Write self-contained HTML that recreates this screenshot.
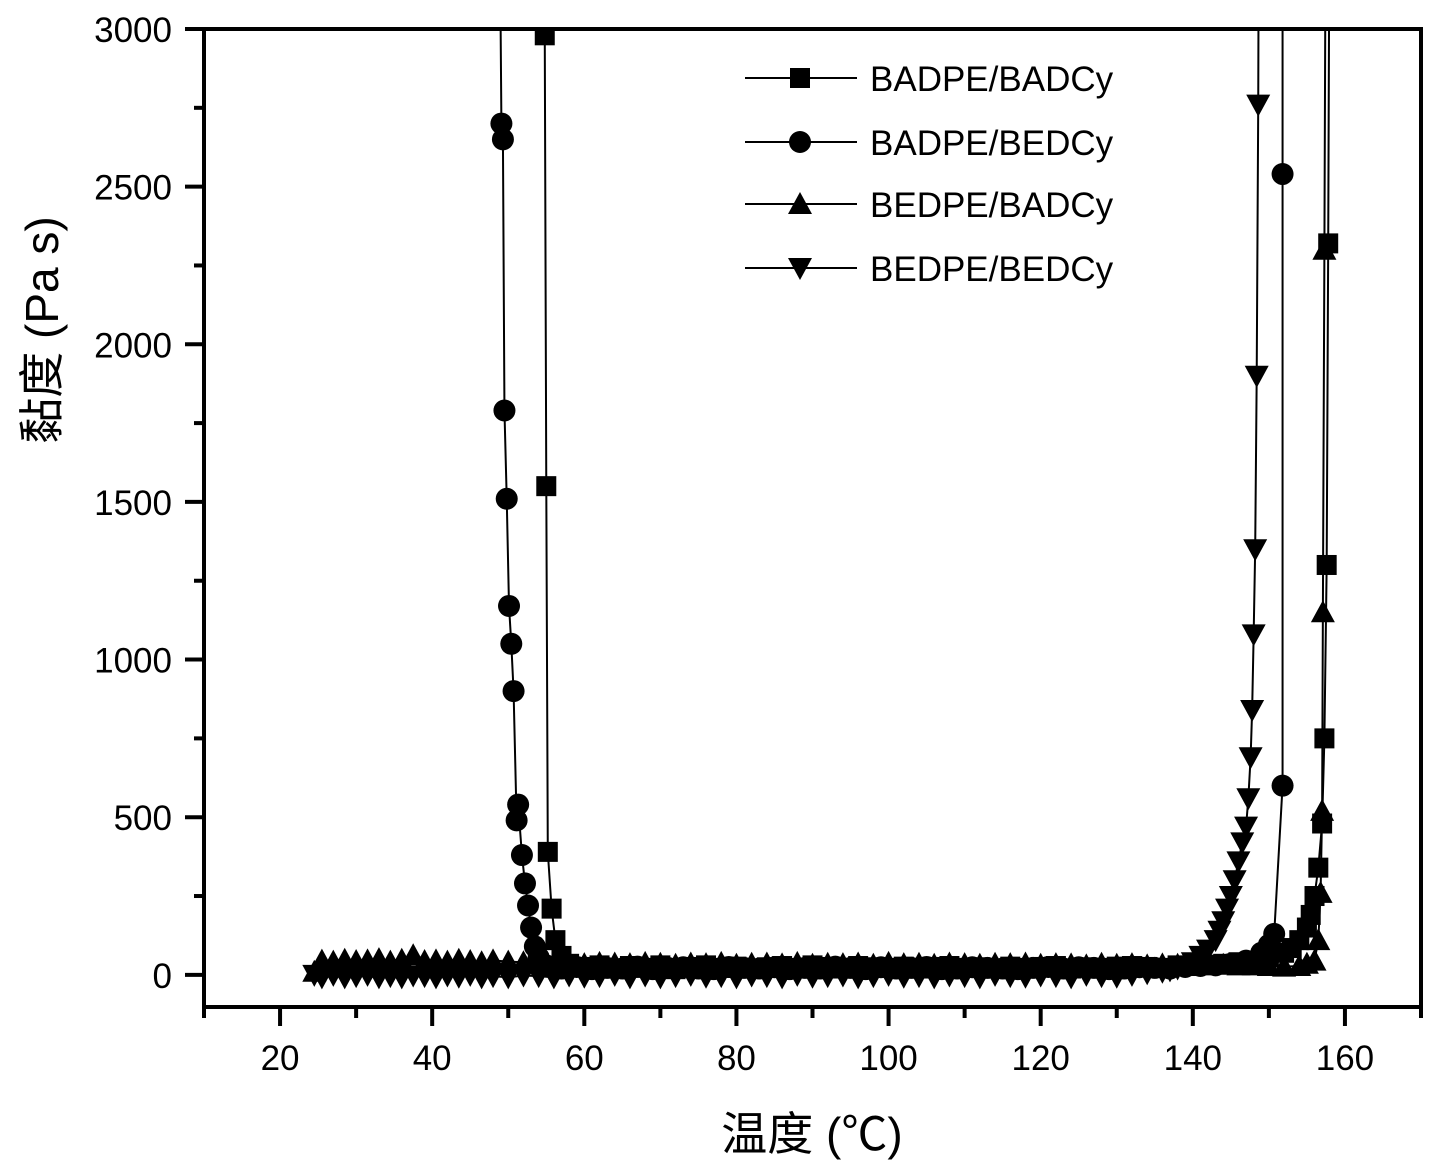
<!DOCTYPE html>
<html><head><meta charset="utf-8"><style>
html,body{margin:0;padding:0;background:#fff;}
svg{display:block;}
text{font-family:"Liberation Sans","Noto Sans CJK SC",sans-serif;fill:#000;}
</style></head><body>
<svg id="chart" width="1435" height="1173" viewBox="0 0 1435 1173">
<defs><clipPath id="plotclip"><rect x="204" y="29" width="1217" height="978"/></clipPath></defs>
<g id="series" clip-path="url(#plotclip)"></g>
<g id="axes"></g>
<g id="legend"></g>
<text x="812" y="1150" font-size="46" text-anchor="middle">温度 (℃)</text>
<text transform="translate(58,330) rotate(-90)" font-size="46" text-anchor="middle">黏度 (Pa s)</text>
</svg>
<script>
const xTicks=[20,40,60,80,100,120,140,160];
const yTicks=[0,500,1000,1500,2000,2500,3000];
const seriesNames=["BADPE/BADCy","BADPE/BEDCy","BEDPE/BADCy","BEDPE/BEDCy"];
const s1T=[54.2,54.8,55.0,55.2,55.7,56.2,57,58,60,62,64,66,68,70,72,74,76,78,80,82,84,86,88,90,92,94,96,98,100,102,104,106,108,110,112,114,116,118,120,122,124,126,128,130,132,134,136,138,140,142,144,146,148,150,152,153,154,155,155.5,156,156.5,157,157.3,157.6,157.8,158,158.2,158.5];
const s1V=[3600,2980,1550,390,210,110,60,35,25,30,20,28,22,30,18,25,30,22,26,20,24,28,22,30,25,20,28,24,22,26,20,25,28,22,24,20,26,22,25,28,20,24,22,26,28,25,22,30,28,32,35,40,45,55,70,85,110,150,190,250,340,480,750,1300,2320,3600,3600,3600];
const s2T=[48.8,49.1,49.3,49.5,49.8,50.1,50.4,50.7,51.1,51.3,51.8,52.2,52.6,53,53.5,54,55,57,59,61,63,65,67,69,71,73,75,77,79,81,83,85,87,89,91,93,95,97,99,101,103,105,107,109,111,113,115,117,119,121,123,125,127,129,131,133,135,137,139,141,143,145,147,149,150,150.7,151.8,151.8,151.8];
const s2V=[3600,2700,2650,1790,1510,1170,1050,900,490,540,380,290,220,150,90,55,30,20,25,18,22,20,26,18,22,24,20,18,25,22,20,24,18,22,20,26,22,18,24,20,22,25,18,20,24,22,20,18,22,25,20,24,22,18,20,24,22,20,25,28,30,35,45,70,95,130,600,2540,3600];
const s3T=[24.5,25.5,27,28.5,30,31.5,33,34.5,36,37.5,39,40.5,42,43.5,45,46.5,48,50,52,54,56,58,60,62,64,66,68,70,72,74,76,78,80,82,84,86,88,90,92,94,96,98,100,102,104,106,108,110,112,114,116,118,120,122,124,126,128,130,132,134,136,138,140,142,144,146,148,150,152,154,155,156,156.5,156.8,157,157.1,157.3,157.5];
const s3V=[10,45,42,48,44,46,50,42,48,62,44,46,42,48,44,40,46,42,40,38,36,40,34,38,36,34,38,35,32,36,34,38,32,35,36,33,38,32,35,34,36,32,38,34,35,32,36,34,32,35,34,36,32,34,33,30,35,32,34,30,33,32,34,30,32,30,30,28,26,28,35,45,110,260,520,1150,2300,3600];
const s4T=[24.5,25.5,27,28.5,30,31.5,33,34.5,36,37.5,39,40.5,42,43.5,45,46.5,48,50,52,54,56,58,60,62,64,66,68,70,72,74,76,78,80,82,84,86,88,90,92,94,96,98,100,102,104,106,108,110,112,114,116,118,120,122,124,126,128,130,132,134,136,137,138,139,140,141,142,143,143.5,144,144.5,145,145.5,146,146.5,147,147.3,147.6,147.8,148,148.2,148.4,148.6,148.7];
const s4V=[0,-8,0,-8,-4,0,-8,-4,-8,-2,-4,-8,-2,-6,0,-8,-4,-8,-2,-4,-8,-2,-6,-4,0,-8,-2,-8,-4,0,-6,-4,-8,-2,-4,-8,0,-6,-4,-2,-8,-4,0,-6,-4,-8,-2,-4,-8,0,-4,-6,-2,-4,-8,0,-4,-6,0,5,10,14,20,28,40,60,80,110,140,170,210,250,300,360,420,470,560,690,840,1080,1350,1900,2760,3600];
const seriesT=[s1T,s2T,s3T,s4T];
const seriesV=[s1V,s2V,s3V,s4V];

const NS="http://www.w3.org/2000/svg";
const L=204,R=1421,T=29,B=1007;
const xMin=10,xMax=170,yMin=-102,yMax=3000;
function sx(v){return L+(v-xMin)/(xMax-xMin)*(R-L);}
function sy(v){return B-(v-yMin)/(yMax-yMin)*(B-T);}
function mk(tag,attrs,parent){const e=document.createElementNS(NS,tag);for(const k in attrs)e.setAttribute(k,attrs[k]);parent.appendChild(e);return e;}
function marker(kind,x,y,parent){
  const s=10;let e;
  if(kind===0)e=mk('rect',{x:x-s,y:y-s,width:2*s,height:2*s,fill:'#000'},parent);
  else if(kind===1)e=mk('circle',{cx:x,cy:y,r:s+1,fill:'#000'},parent);
  else if(kind===2)e=mk('polygon',{points:`${x},${y-s-2} ${x-s-2},${y+s} ${x+s+2},${y+s}`,fill:'#000'},parent);
  else e=mk('polygon',{points:`${x},${y+s+2} ${x-s-2},${y-s} ${x+s+2},${y-s}`,fill:'#000'},parent);
  return e;
}
const sg=document.getElementById('series');
for(let i=3;i>=0;i--){
  const g=mk('g',{},sg);
  
  
  const pts=seriesT[i].map((t,j)=>sx(t)+','+sy(seriesV[i][j])).join(' ');
  const pl=mk('polyline',{points:pts,fill:'none',stroke:'#000','stroke-width':2},g);
  
  
  seriesT[i].forEach((t,j)=>{
    const m=marker(i,sx(t),sy(seriesV[i][j]),g);
    
    
  });
}
const ax=document.getElementById('axes');
const frame=mk('rect',{x:L,y:T,width:R-L,height:B-T,fill:'none',stroke:'#000','stroke-width':4},ax);


for(let v=xMin;v<=xMax;v+=10){
  const major=xTicks.includes(v);
  const t=mk('line',{x1:sx(v),x2:sx(v),y1:B,y2:B+(major?19:11),stroke:'#000','stroke-width':4},ax);
  
  
}
xTicks.forEach(v=>{
  const t=mk('text',{x:sx(v),y:1070,'font-size':35,'text-anchor':'middle'},ax);
  t.textContent=v;
  
  
});
for(let v=0;v<=3000;v+=250){
  const major=v%500===0;
  const t=mk('line',{x1:L-(major?19:10),x2:L,y1:sy(v),y2:sy(v),stroke:'#000','stroke-width':4},ax);
  
  
}
yTicks.forEach(v=>{
  const t=mk('text',{x:172,y:sy(v)+13,'font-size':35,'text-anchor':'end'},ax);
  t.textContent=v;
  
  
});
const lg=document.getElementById('legend');
const legY=[78,142,204,268];
seriesNames.forEach((n,i)=>{
  const g=mk('g',{},lg);
  
  
  mk('line',{x1:745,x2:857,y1:legY[i],y2:legY[i],stroke:'#000','stroke-width':2},g);
  marker(i,800,legY[i],g);
  const t=mk('text',{x:870,y:legY[i]+13,'font-size':35},g);
  t.textContent=n;
});
</script>
</body></html>
